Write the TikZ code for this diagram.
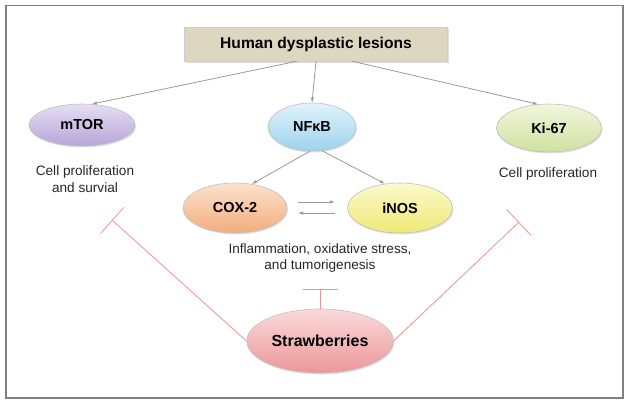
\documentclass[tikz,border=0pt]{standalone}
\usepackage{fontspec}
\setmainfont{Liberation Sans}
\usetikzlibrary{arrows.meta,shapes,shadows}
\definecolor{boxfill}{HTML}{DDD7C2}
\definecolor{linegray}{HTML}{9A9A9A}
\definecolor{inhib}{HTML}{F0918C}
\definecolor{mtorA}{HTML}{E6DEF3}\definecolor{mtorB}{HTML}{B8A4DA}
\definecolor{nfkbA}{HTML}{E0F3FC}\definecolor{nfkbB}{HTML}{9DD3EE}
\definecolor{kiA}{HTML}{F2F6DC}\definecolor{kiB}{HTML}{D0E0A0}
\definecolor{coxA}{HTML}{FCE2CC}\definecolor{coxB}{HTML}{F3AC7E}
\definecolor{inosA}{HTML}{FCF9CC}\definecolor{inosB}{HTML}{EFE876}
\definecolor{strawA}{HTML}{FADADA}\definecolor{strawB}{HTML}{EC9799}
\tikzstyle{blob}=[ellipse,draw=black!25,line width=0.6pt,font=\bfseries\fontsize{14.5}{16}\selectfont,drop shadow={opacity=0.25,shadow xshift=1pt,shadow yshift=-1.5pt}]
\tikzstyle{note}=[align=center,font=\fontsize{13.6}{16.5}\selectfont,text=black!85]
\tikzstyle{link}=[draw,linegray,line width=0.8pt,-{Latex[length=5pt,width=3.5pt]}]
\tikzstyle{block}=[draw,inhib,line width=0.8pt,-{Bar[width=35pt,line width=0.8pt]}]

\begin{document}
\begin{tikzpicture}[x=1pt,y=-1pt]
    % frame
    \useasboundingbox (0,0) rectangle (629,405);
    \draw[black!50,line width=1.5pt] (6,5.5) rectangle (623,398);

    % First we draw the nodes
    \node[draw=black!20,fill=boxfill,minimum width=263pt,minimum height=34pt,font=\bfseries\fontsize{15.6}{18}\selectfont,drop shadow={opacity=0.25,shadow xshift=1pt,shadow yshift=-1.5pt}] (lesions) at (316,44) {Human dysplastic lesions};
    \foreach \pos/\name/\top/\bot/\w/\h/\txt in {{(82,125)/mtor/mtorA/mtorB/106/42/mTOR}, {(312,127)/nfkb/nfkbA/nfkbB/88/48/NFκB}, {(549,128)/ki67/kiA/kiB/105/48/Ki-67}, {(235,208)/cox2/coxA/coxB/104/50/COX-2}, {(400,208)/inos/inosA/inosB/105/50/iNOS}}
        \node[blob,top color=\top,bottom color=\bot,minimum width=\w pt,minimum height=\h pt] (\name) at \pos {\txt};
    \node[blob,top color=strawA,bottom color=strawB,minimum width=135pt,minimum height=64pt,font=\bfseries\fontsize{16}{18}\selectfont] (straw) at (320,341) {Strawberries};

    % labels
    \node[note] (mtortext) at (85,179) {Cell proliferation\\and survial};
    \node[note] (kitext) at (548,174) {Cell proliferation};
    \node[note] (inftext) at (320,258) {Inflammation, oxidative stress,\\and tumorigenesis};

    % arrows
    \path[link] (lesions.south) ++(-19,0) -- (mtor.65) ;
    \path[link] (lesions.south) -- (nfkb.north) ;
    \path[link] (lesions.south) ++(36,0) -- (ki67.115) ;
    \path[link] (nfkb.265) -- (cox2.55) ;
    \path[link] (nfkb.293) -- (inos.122) ;
    \coordinate (c1) at (298,202);
    \coordinate (c2) at (335,202);
    \coordinate (c3) at (335,213);
    \coordinate (c4) at (298,213);
    \path[link] (c1) -- (c2) ;
    \path[link] (c3) -- (c4) ;

    % inhibition
    \coordinate (lbar) at (112,220);
    \coordinate (rbar) at (519,222);
    \coordinate (mbar) at (320,289);
    \path[block] (straw.west) -- (lbar) ;
    \path[block] (straw.east) -- (rbar) ;
    \path[block] (straw.north) -- (mbar) ;
\end{tikzpicture}
\end{document}
